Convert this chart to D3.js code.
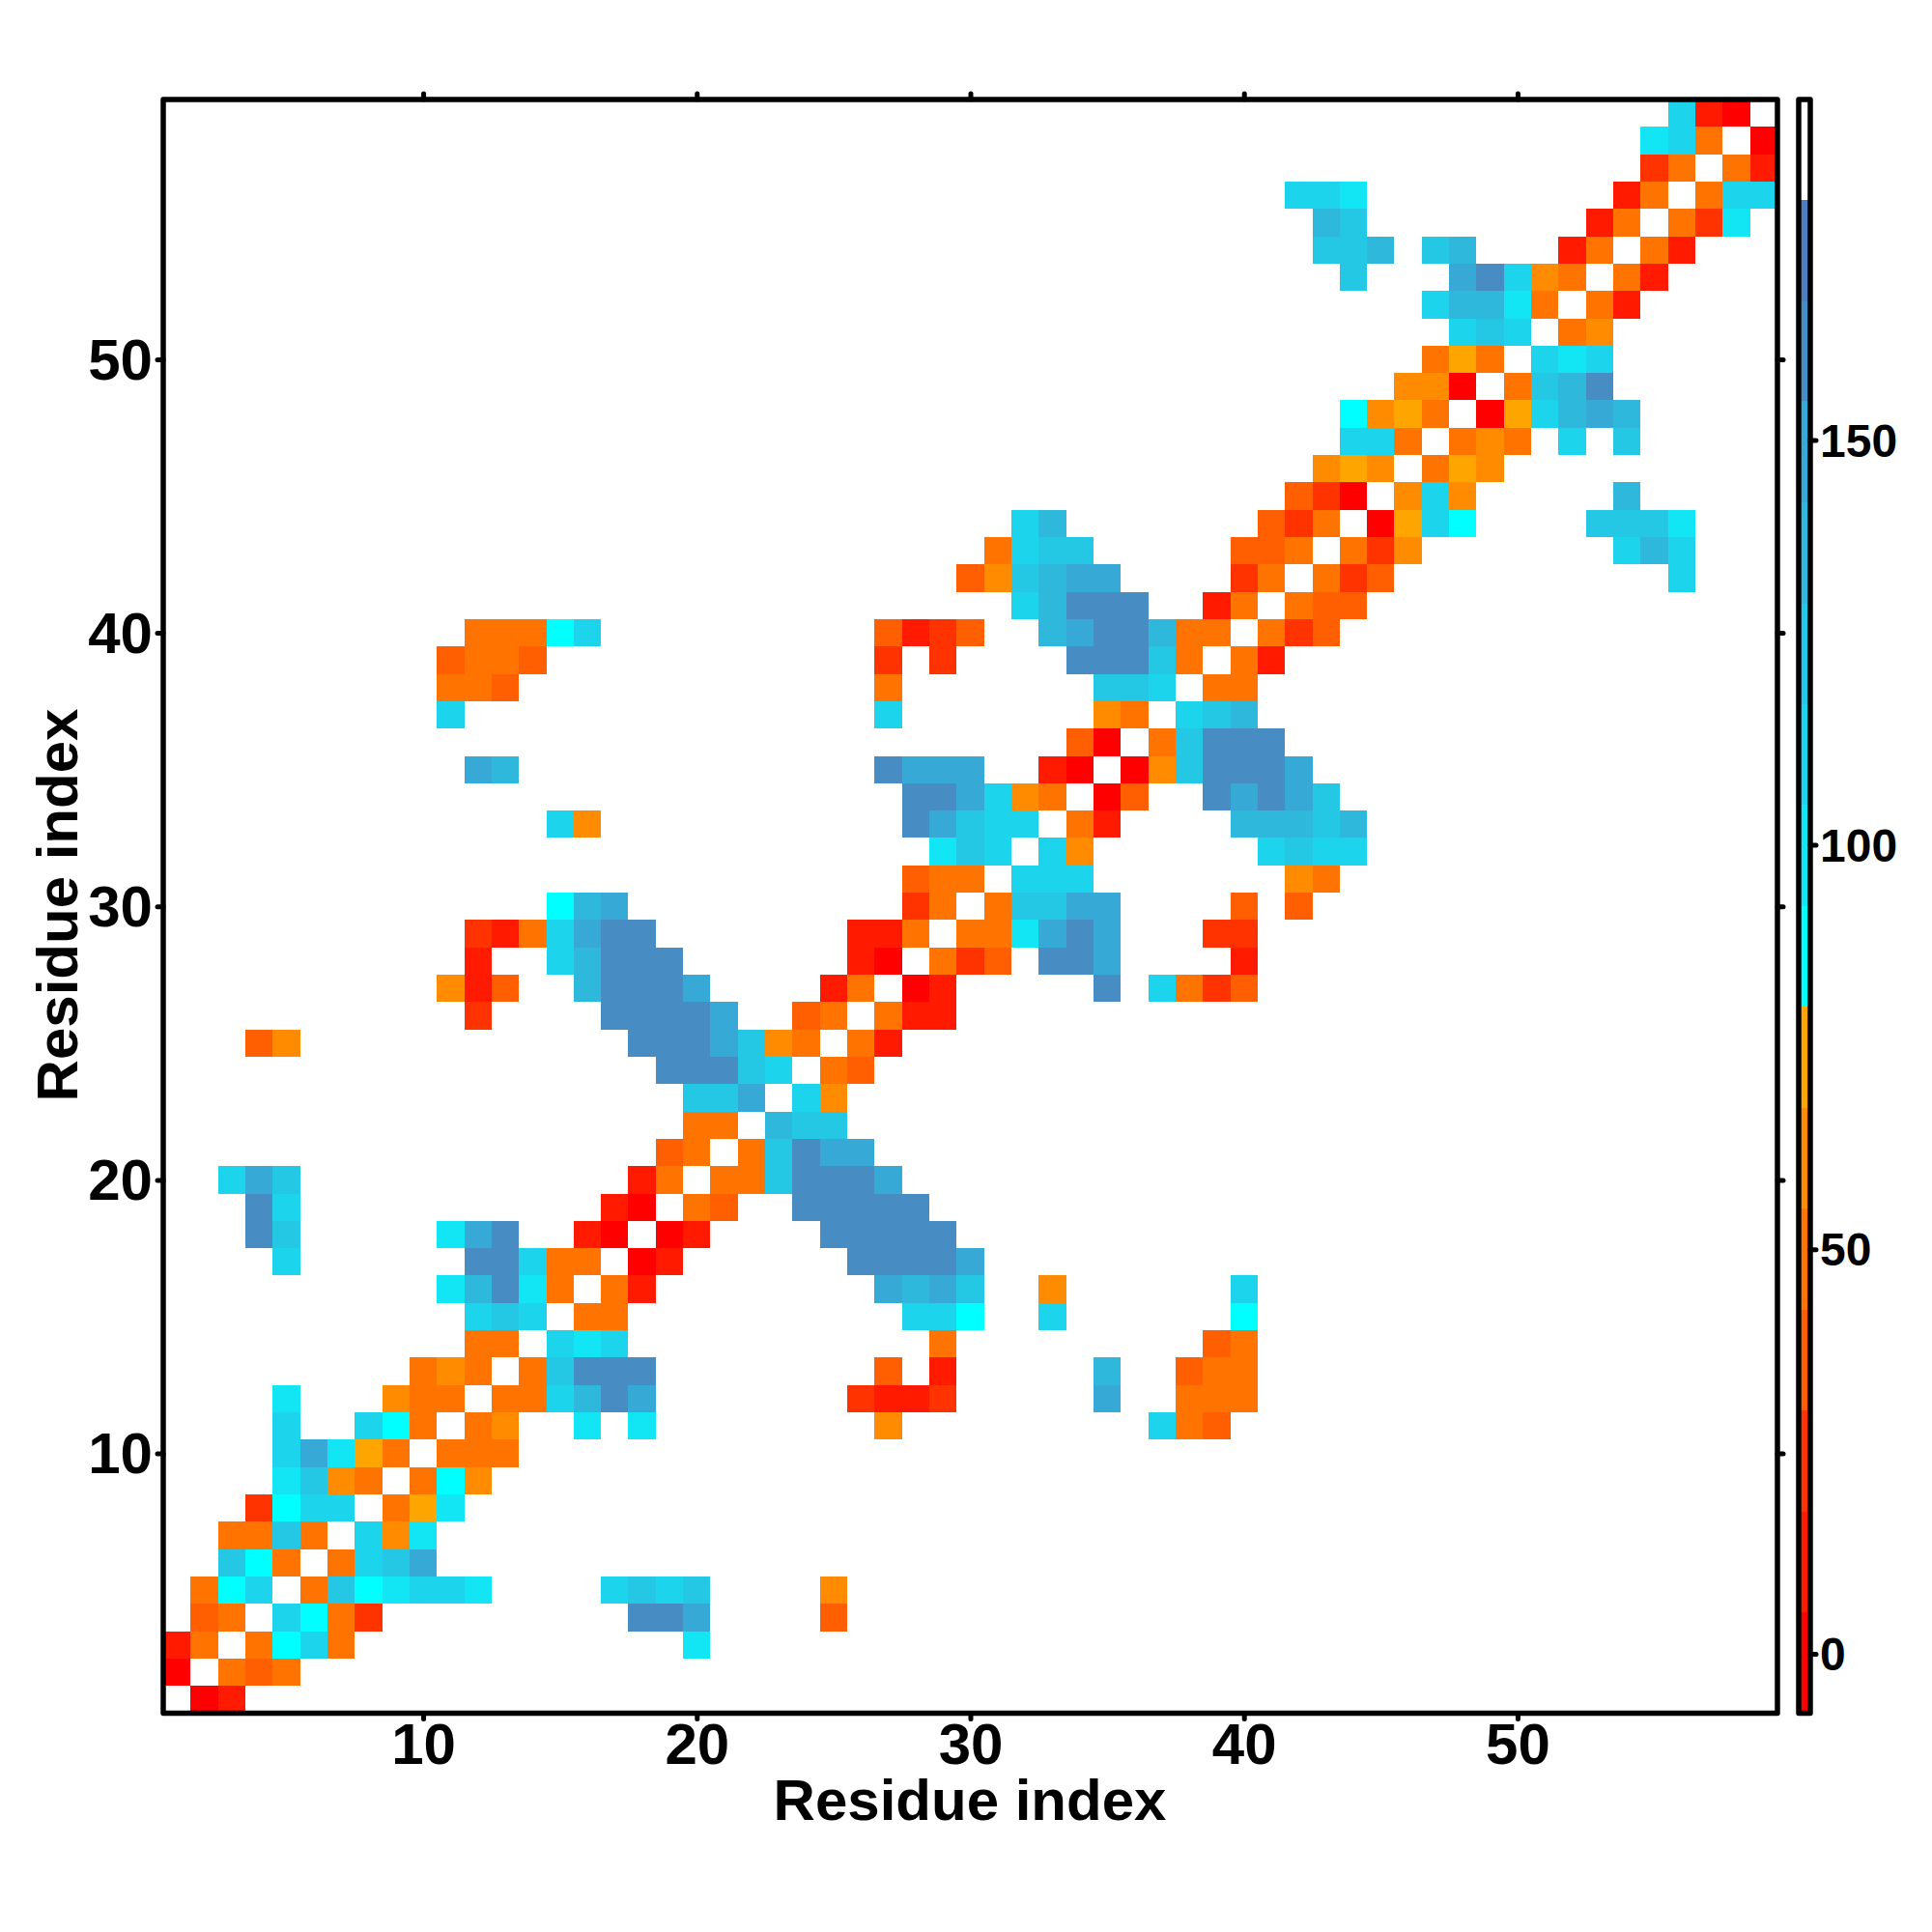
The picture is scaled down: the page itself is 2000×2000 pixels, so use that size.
<!DOCTYPE html>
<html><head><meta charset="utf-8">
<script src="https://cdn.jsdelivr.net/npm/d3@7"></script>
<style>html,body{margin:0;padding:0;background:#fff}svg{display:block}text{font-family:"Liberation Sans",Arial,sans-serif;font-weight:bold;fill:#000}</style>
</head><body><svg id="c" width="2000" height="2000"></svg>
<script>
// Colour bands of the key, lowest first; the top band is white.
const levelColors = ["#ff0000","#ff1a00","#ff3300","#ff5f00","#ff7300","#ff8c00","#ffa500","#00ffff","#12e6f4","#1cd5ec","#24c7e4","#2db8dc","#36a9d6","#488cc4","#4f7fbe","#ffffff"];
// Band edges.
const levelBreaks = [5.1,17.6,30.1,42.5,55,67.5,80,92.4,104.9,117.4,129.8,142.3,154.8,167.2,179.7];
// Estimated value of a cell for each key digit (0-e); d and e both fall in the darkest blue seen in the map.
const levelValues = [0,12,24,37,50,62,75,86,99,112,124,137,149,162,160];
const residueTicks = [10,20,30,40,50];
const keyTicks = [0,50,100,150];
const keyDomain = [-7.35,192.1];
const xTitle = "Residue index", yTitle = "Residue index";
// One entry per residue (row 1 to 59): "firstColumn:digits", "." = empty cell.
const rowRuns = [
"2:01","1:0.434","1:14.4794 20:8","2:34.9742 18:eec 25:3","2:479.4a78998 17:9a9a 25:5",
"3:a74.49ac","3:44a4.958","4:2799.468","5:8a54.475","5:9c864.444",
"5:9 8:974.45 16:8 18:8 27:5 37:943","5:8 9:544.449bec 26:2112 35:c 38:444","10:454.4aeee 27:3 29:1 35:b 38:344","12:44.989 29:4 39:34","12:9a9.44 28:997 33:9 40:7",
"11:8be84.41 27:cbca 33:5 40:9","5:9 12:ee944.01 26:eeeec","4:ea 11:8ce 16:10.01 25:eeeee","4:e9 17:10.43 24:eeeee","3:9ca 18:14.44aeeec",
"19:34.4aecc","20:44.baa","20:aac.95","19:eeea9.43","4:35 18:eeeca54.41",
"12:2 17:eeeec 24:34.411","11:513 16:beeec 25:14.01 35:e 37:9423","12:1 15:9beee 26:10.423 33:eec 40:1","12:2149cee 26:114.448cec 39:22","15:7bc 28:24.4aacc 40:3 42:3",
"28:344.999 42:54","29:8a9.95 41:9a99","15:95 28:eca99.41 40:bbbab","28:eec954.03 39:ececa","12:cb 27:eccc 33:10.05aeeec",
"34:30.4aeee","11:9 27:9 35:54.9ab","11:443 27:4 35:aa9.44","11:3443 27:2 29:2 34:eeea4.41","12:44479 27:3123 33:bceeb44.423",
"32:9beee 39:14.433","30:35abcc 40:24.423 56:9","31:49aa 40:334.425 54:9b9","32:9b 41:324.0697 53:aaa8","42:320.595 54:b",
"43:565.465","44:994.454 52:9 54:a","44:7564.069bcb","46:550.4abe","47:464.989",
"48:9a9.45","47:9bb84.41","44:a 48:ce954.41","43:aab 47:ab 52:14.41","43:ba 53:14.428",
"42:998 54:14.499","55:24.41","55:894.0","56:910"
];

const cells = [];
rowRuns.forEach((row,i)=>row.split(" ").forEach(run=>{
  const [start,digits] = run.split(":");
  [...digits].forEach((ch,k)=>{ if(ch!==".") cells.push({col:+start+k,row:i+1,value:levelValues[parseInt(ch,16)]}); });
}));

const L=169,R=1840,T=103,B=1773.5,SW=5.5;
const x=d3.scaleLinear().domain([0.5,59.5]).range([L,R]);
const y=d3.scaleLinear().domain([0.5,59.5]).range([B,T]);
const color=d3.scaleThreshold().domain(levelBreaks).range(levelColors);
const svg=d3.select("#c");

svg.append("g").attr("shape-rendering","crispEdges").selectAll("rect").data(cells).join("rect")
  .attr("x",d=>x(d.col-0.5)).attr("y",d=>y(d.row+0.5))
  .attr("width",d=>x(d.col+0.5)-x(d.col-0.5)).attr("height",d=>y(d.row-0.5)-y(d.row+0.5))
  .attr("fill",d=>color(d.value));

function style(g,size){
  g.select(".domain").remove();
  g.selectAll("line").attr("stroke","#000").attr("stroke-width",5).attr("stroke-linecap","round");
  g.selectAll("text").style("font-size",size+"px");
}
const TL=6;
svg.append("g").attr("transform",`translate(0,${B})`)
  .call(d3.axisBottom(x).tickValues(residueTicks).tickSize(TL).tickPadding(4)).call(style,60);
svg.append("g").attr("transform",`translate(${L},0)`)
  .call(d3.axisLeft(y).tickValues(residueTicks).tickSize(TL).tickPadding(5)).call(style,60)
  .selectAll("text").attr("dy","0.34em");
svg.append("g").attr("transform",`translate(0,${T})`)
  .call(d3.axisTop(x).tickValues(residueTicks).tickSize(TL).tickFormat("")).call(style,60);
svg.append("g").attr("transform",`translate(${R},0)`)
  .call(d3.axisRight(y).tickValues(residueTicks).tickSize(TL).tickFormat("")).call(style,60);

svg.append("rect").attr("x",L).attr("y",T).attr("width",R-L).attr("height",B-T)
  .attr("fill","none").attr("stroke","#000").attr("stroke-width",SW).attr("stroke-linejoin","round");

// Colour key
const keyL=1862,keyR=1874;
const k=d3.scaleLinear().domain(keyDomain).range([B,T]);
const edges=[keyDomain[0],...levelBreaks,keyDomain[1]];
svg.append("g").attr("shape-rendering","crispEdges").selectAll("rect").data(levelColors).join("rect")
  .attr("x",keyL).attr("width",keyR-keyL)
  .attr("y",(d,i)=>k(edges[i+1])).attr("height",(d,i)=>k(edges[i])-k(edges[i+1]))
  .attr("fill",d=>d);
svg.append("rect").attr("x",keyL).attr("y",T).attr("width",keyR-keyL).attr("height",B-T)
  .attr("fill","none").attr("stroke","#000").attr("stroke-width",SW).attr("stroke-linejoin","round");
svg.append("g").attr("transform",`translate(${keyR},0)`)
  .call(d3.axisRight(k).tickValues(keyTicks).tickSize(6).tickPadding(4)).call(style,48)
  .selectAll("text").attr("dy","0.35em");

svg.append("text").attr("x",1004).attr("y",1884).attr("text-anchor","middle").style("font-size","60px").text(xTitle);
svg.append("text").attr("transform","translate(80,937) rotate(-90)").attr("text-anchor","middle").style("font-size","60px").text(yTitle);
</script></body></html>
